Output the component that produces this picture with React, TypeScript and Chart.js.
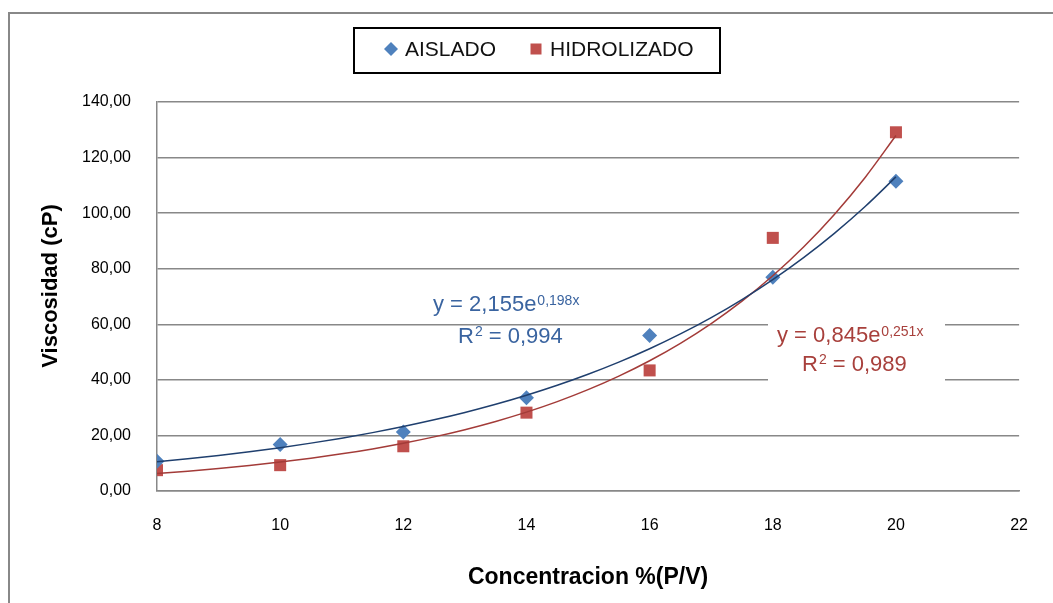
import React, { useEffect, useRef } from 'react';
import { Chart, registerables } from 'chart.js';

Chart.register(...registerables);

// ---- data ----
const concentrations = [8, 10, 12, 14, 16, 18, 20];
const aisladoValues = [10.7, 16.7, 21.2, 33.6, 56.0, 76.9, 111.5];
const hidrolizadoValues = [7.5, 9.3, 16.1, 28.2, 43.4, 91.1, 129.1];
const seriesNames = ['AISLADO', 'HIDROLIZADO'];
const xTickValues = [8, 10, 12, 14, 16, 18, 20, 22];
const yTickValues = [0, 20, 40, 60, 80, 100, 120, 140];
const xTitle = 'Concentracion %(P/V)';
const yTitle = 'Viscosidad (cP)';
// exponential trendlines as printed on the chart: y = a * e^(b x)
const aisladoFit = { a: 2.155, b: 0.198, r2: '0,994', aText: '2,155', bText: '0,198' };
const hidrolizadoFit = { a: 0.845, b: 0.251, r2: '0,989', aText: '0,845', bText: '0,251' };
const trendXs = [8, 8.5, 9, 9.5, 10, 10.5, 11, 11.5, 12, 12.5, 13, 13.5, 14, 14.5, 15, 15.5, 16, 16.5, 17, 17.5, 18, 18.5, 19, 19.5, 20];

const BLUE = '#4F81BD';
const RED = '#C0504D';
const BLUE_TREND = '#1F3F6E';
const RED_TREND = '#A33B38';
const BLUE_TEXT = '#3A64A0';
const RED_TEXT = '#A8403C';
const FONT = '"Liberation Sans", Arial, sans-serif';

function fmt(v: number) {
  return v.toFixed(2).replace('.', ',');
}

function drawEquation(
  ctx: CanvasRenderingContext2D,
  left: number,
  centerY: number,
  aText: string,
  bText: string,
  color: string
) {
  ctx.save();
  ctx.fillStyle = color;
  ctx.textBaseline = 'alphabetic';
  ctx.textAlign = 'left';
  const base = centerY + 8;
  ctx.font = `22px ${FONT}`;
  const main = `y = ${aText}e`;
  ctx.fillText(main, left, base);
  const w = ctx.measureText(main).width;
  ctx.font = `14px ${FONT}`;
  ctx.fillText(`${bText}x`, left + w + 1, base - 6);
  ctx.restore();
}

function drawR2(ctx: CanvasRenderingContext2D, left: number, centerY: number, r2: string, color: string) {
  ctx.save();
  ctx.fillStyle = color;
  ctx.textBaseline = 'alphabetic';
  ctx.textAlign = 'left';
  const base = centerY + 8;
  ctx.font = `22px ${FONT}`;
  ctx.fillText('R', left, base);
  let x = left + ctx.measureText('R').width;
  ctx.font = `14px ${FONT}`;
  ctx.fillText('2', x + 1, base - 7);
  x += ctx.measureText('2').width + 1;
  ctx.font = `22px ${FONT}`;
  ctx.fillText(` = ${r2}`, x, base);
  ctx.restore();
}

const overlayPlugin = {
  id: 'overlay',
  afterDraw(chart: any) {
    const ctx: CanvasRenderingContext2D = chart.ctx;
    // legend box
    ctx.save();
    ctx.strokeStyle = '#000';
    ctx.lineWidth = 2;
    ctx.strokeRect(344, 14, 366, 45);
    // diamond
    ctx.fillStyle = BLUE;
    ctx.beginPath();
    ctx.moveTo(381, 28);
    ctx.lineTo(388, 35);
    ctx.lineTo(381, 42);
    ctx.lineTo(374, 35);
    ctx.closePath();
    ctx.fill();
    // square
    ctx.fillStyle = RED;
    ctx.fillRect(520.5, 29.5, 11, 11);
    ctx.fillStyle = '#111';
    ctx.font = `21px ${FONT}`;
    ctx.textBaseline = 'middle';
    ctx.textAlign = 'left';
    ctx.fillText(seriesNames[0], 395, 36);
    ctx.fillText(seriesNames[1], 540, 36);
    ctx.restore();

    // y axis title
    ctx.save();
    ctx.translate(41, 272);
    ctx.rotate(-Math.PI / 2);
    ctx.fillStyle = '#000';
    ctx.font = `bold 22px ${FONT}`;
    ctx.textAlign = 'center';
    ctx.textBaseline = 'middle';
    ctx.fillText(yTitle, 0, 0);
    ctx.restore();

    // trendline labels
    drawEquation(ctx, 423, 289, aisladoFit.aText, aisladoFit.bText, BLUE_TEXT);
    drawR2(ctx, 448, 321, aisladoFit.r2, BLUE_TEXT);

    ctx.save();
    ctx.fillStyle = '#fff';
    ctx.fillRect(758, 304, 177, 64);
    ctx.restore();
    drawEquation(ctx, 767, 320, hidrolizadoFit.aText, hidrolizadoFit.bText, RED_TEXT);
    drawR2(ctx, 792, 349, hidrolizadoFit.r2, RED_TEXT);
  },
};

export default function App() {
  const canvasRef = useRef<HTMLCanvasElement | null>(null);

  useEffect(() => {
    if (!canvasRef.current) return;
    const aisPts = concentrations.map((x, i) => ({ x, y: aisladoValues[i] }));
    const hidPts = concentrations.map((x, i) => ({ x, y: hidrolizadoValues[i] }));
    const aisTrend = trendXs.map((x) => ({ x, y: aisladoFit.a * Math.exp(aisladoFit.b * x) }));
    const hidTrend = trendXs.map((x) => ({ x, y: hidrolizadoFit.a * Math.exp(hidrolizadoFit.b * x) }));

    const chart = new Chart(canvasRef.current, {
      type: 'scatter',
      data: {
        datasets: [
          {
            label: seriesNames[0],
            data: aisPts,
            pointStyle: 'rectRot',
            pointRadius: 7.5,
            backgroundColor: BLUE,
            borderColor: BLUE,
            borderWidth: 0,
            showLine: false,
            order: 2,
          },
          {
            label: seriesNames[1],
            data: hidPts,
            pointStyle: 'rect',
            pointRadius: 8.5,
            backgroundColor: RED,
            borderColor: RED,
            borderWidth: 0,
            showLine: false,
            order: 2,
          },
          {
            label: 'trend-ais',
            data: aisTrend,
            showLine: true,
            pointRadius: 0,
            borderColor: BLUE_TREND,
            borderWidth: 1.5,
            cubicInterpolationMode: 'monotone',
            order: 0,
          },
          {
            label: 'trend-hid',
            data: hidTrend,
            showLine: true,
            pointRadius: 0,
            borderColor: RED_TREND,
            borderWidth: 1.5,
            cubicInterpolationMode: 'monotone',
            order: 1,
          },
        ],
      },
      options: {
        animation: false,
        responsive: false,
        layout: { padding: { top: 88, right: 25, left: 0, bottom: 0 } },
        plugins: {
          legend: { display: false },
          tooltip: { enabled: false },
        },
        scales: {
          x: {
            type: 'linear',
            min: 8,
            max: 22,
            afterBuildTicks: (scale: any) => {
              scale.ticks = xTickValues.map((v) => ({ value: v }));
            },
            afterFit: (scale: any) => {
              scale.height = 112;
            },
            grid: { display: false, drawTicks: false },
            border: { display: true, color: '#888', width: 1.5 },
            ticks: {
              color: '#000',
              padding: 25,
              font: { family: FONT, size: 16 },
              callback: (v: any) => String(v),
            },
            title: {
              display: true,
              text: xTitle,
              color: '#000',
              font: { family: FONT, size: 23, weight: 'bold', lineHeight: 1 },
              padding: { top: 0, bottom: 14 },
            },
          },
          y: {
            type: 'linear',
            min: 0,
            max: 140,
            afterBuildTicks: (scale: any) => {
              scale.ticks = yTickValues.map((v) => ({ value: v }));
            },
            afterFit: (scale: any) => {
              scale.width = 147;
            },
            grid: { color: '#888', lineWidth: 1.5, drawTicks: false },
            border: { display: true, color: '#888', width: 1.5 },
            ticks: {
              color: '#000',
              padding: 26,
              font: { family: FONT, size: 16 },
              callback: (v: any) => fmt(Number(v)),
            },
            title: { display: false },
          },
        },
      },
      plugins: [overlayPlugin],
    } as any);

    return () => chart.destroy();
  }, []);

  return (
    <div
      style={{
        position: 'absolute',
        left: 8,
        top: 12,
        width: 1045,
        height: 591,
        borderTop: '2px solid #888',
        borderLeft: '2px solid #888',
        boxSizing: 'border-box',
        background: '#fff',
        overflow: 'hidden',
      }}
    >
      <canvas ref={canvasRef} width={1043} height={589} style={{ display: 'block' }} />
    </div>
  );
}
